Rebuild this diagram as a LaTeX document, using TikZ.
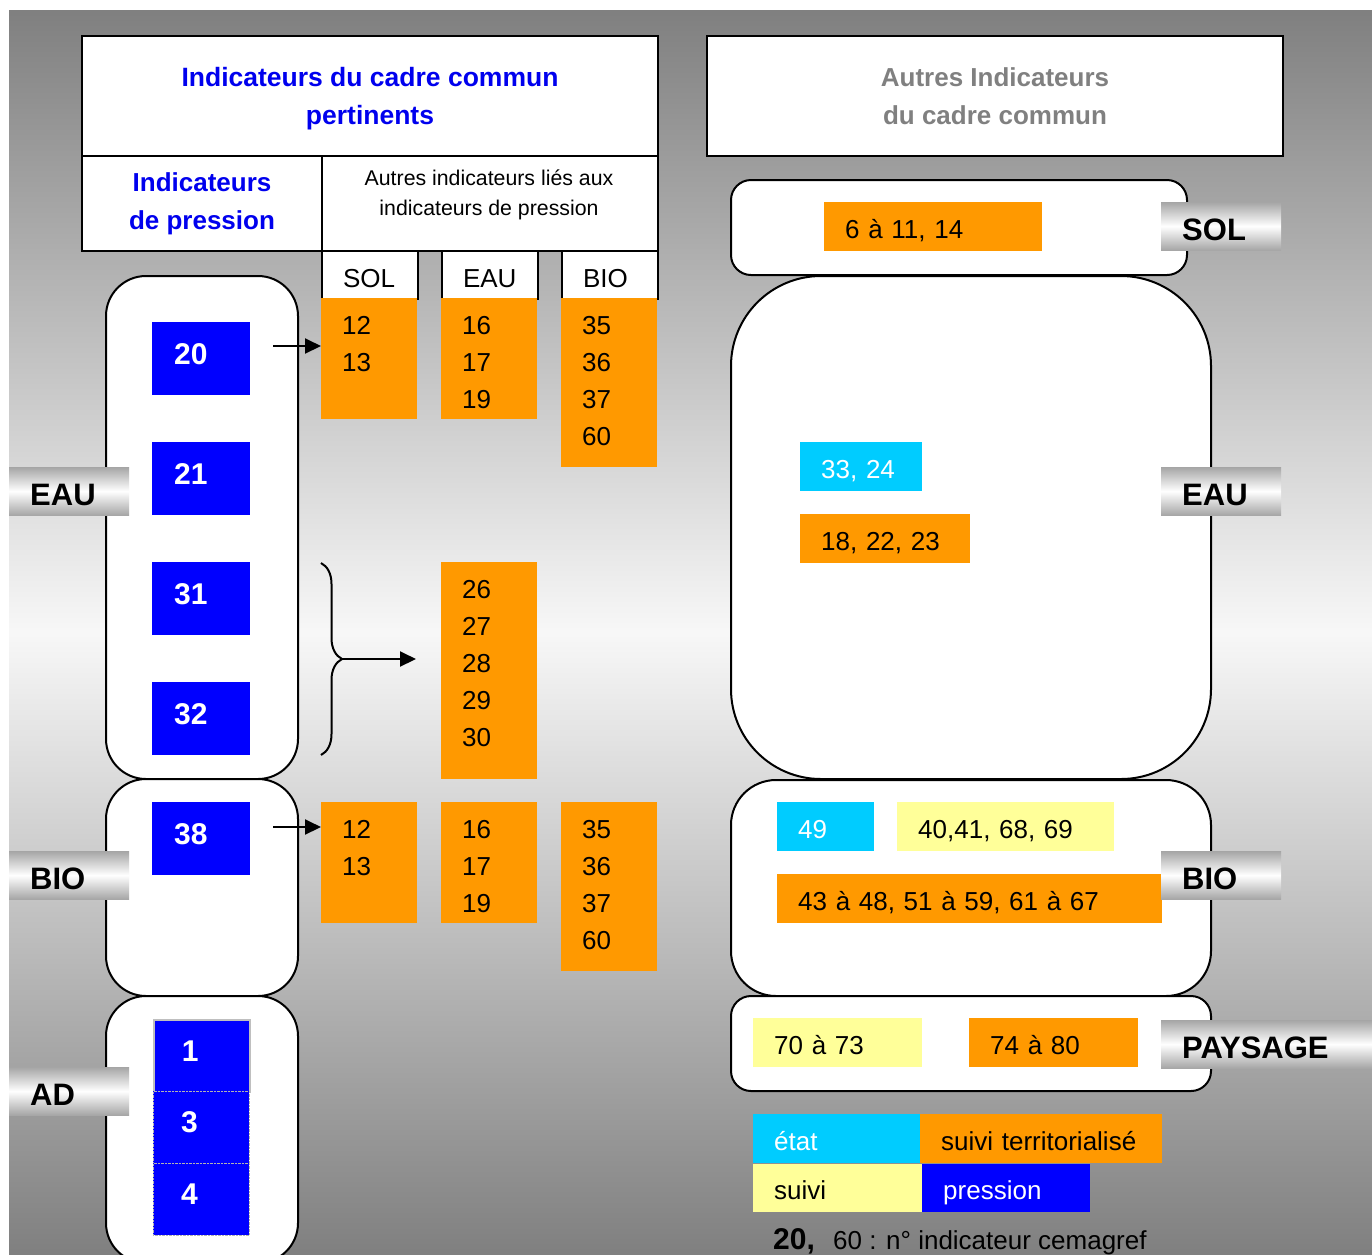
\documentclass[tikz,border=0pt]{standalone}
\usepackage{fontspec}
\setmainfont{Liberation Sans}
\usepackage{tikz}
\usepackage{xcolor}
\usetikzlibrary{arrows.meta, decorations.pathreplacing}

\definecolor{ora}{HTML}{FF9900}
\definecolor{cya}{HTML}{00CCFF}
\definecolor{yel}{HTML}{FFFF99}
\definecolor{blu}{HTML}{0000FF}
\definecolor{txtblue}{HTML}{0000EE}

\begin{document}
\begin{tikzpicture}[x=1pt, y=-1pt,
	every node/.style	= {inner sep=0pt, font=\fontsize{26}{31}\selectfont},
	cell/.style			= {draw, line width=2pt, fill=white, anchor=north west},
	grp/.style			= {draw, line width=2pt, fill=white, anchor=north west, rounded corners=#1},
	grp/.default		= 40pt,
	ocol/.style			= {fill=ora, anchor=north west, minimum width=96pt},
	num/.style			= {anchor=base west},
	cbox/.style			= {anchor=north west, minimum height=49pt, inner xsep=21pt, align=left, text height=23pt, text depth=0pt},
	head/.style			= {cbox, draw, line width=2pt, fill=white, minimum height=48pt, text width=54pt, text height=24pt},
	pbox/.style			= {fill=blu, text=white, anchor=north west, minimum height=73pt, inner xsep=22pt, text width=54pt, align=left, text height=11pt, text depth=0pt, font=\bfseries\fontsize{30}{36}\selectfont},
	tag/.style			= {anchor=north west, top color=black!35, bottom color=black!35, middle color=white, minimum height=48pt, inner xsep=21pt, align=left, text height=28pt, text depth=0pt, font=\bfseries\fontsize{31}{36}\selectfont},
	title/.style		= {cell, minimum width=576pt, minimum height=120pt, align=center, text depth=0pt, font=\bfseries\fontsize{26.5}{38}\selectfont},
	arr/.style			= {-{Triangle[length=16pt, width=15pt]}, line width=2pt}]

\useasboundingbox (0,0) rectangle (1372,1254);
\fill[white] (0,0) rectangle (1372,1254);
\shade[top color=black!50, bottom color=black!50, middle color=white!97!black] (9,10) rectangle (1372,1254);

% gauche
\node[title, text=txtblue]					(ttl)	at (81,35)		{Indicateurs du cadre commun\\pertinents};
\node[cell, minimum width=240pt, minimum height=95pt, align=center, text=txtblue, font=\bfseries\fontsize{26}{38}\selectfont]
											(prs)	at (81,155)		{Indicateurs\\de pression};
\node[cell, minimum width=336pt, minimum height=95pt]	(aut)	at (321,155)	{};
\node[align=center, font=\fontsize{21.3}{30}\selectfont]	(autt)	at (489,195)	{Autres indicateurs liés aux\\indicateurs de pression};

\node[head]									(hsol)	at (321,250)	{SOL};
\node[head]									(heau)	at (441,250)	{EAU};
\node[head]									(hbio)	at (561,250)	{BIO};

\node[ocol, minimum height=121pt]			(sol20)	at (321,298)	{};
\node[ocol, minimum height=121pt]			(eau20)	at (441,298)	{};
\node[ocol, minimum height=169pt]			(bio20)	at (561,298)	{};
\node[ocol, minimum height=217pt]			(eau31)	at (441,562)	{};
\node[ocol, minimum height=121pt]			(sol38)	at (321,802)	{};
\node[ocol, minimum height=121pt]			(eau38)	at (441,802)	{};
\node[ocol, minimum height=169pt]			(bio38)	at (561,802)	{};

\foreach \n [count=\i] in {12,13}			\node[num] (sol20-\i) at (342,297+37*\i) {\n};
\foreach \n [count=\i] in {16,17,19}		\node[num] (eau20-\i) at (462,297+37*\i) {\n};
\foreach \n [count=\i] in {35,36,37,60}		\node[num] (bio20-\i) at (582,297+37*\i) {\n};
\foreach \n [count=\i] in {26,27,28,29,30}	\node[num] (eau31-\i) at (462,561+37*\i) {\n};
\foreach \n [count=\i] in {12,13}			\node[num] (sol38-\i) at (342,801+37*\i) {\n};
\foreach \n [count=\i] in {16,17,19}		\node[num] (eau38-\i) at (462,801+37*\i) {\n};
\foreach \n [count=\i] in {35,36,37,60}		\node[num] (bio38-\i) at (582,801+37*\i) {\n};

\node[grp, minimum width=192pt, minimum height=503pt]	(geau)	at (105,275)	{};
\node[grp, minimum width=192pt, minimum height=217pt]	(gbio)	at (105,778)	{};
\node[grp, minimum width=192pt, minimum height=267pt]	(gad)	at (105,995)	{};

\node[pbox]									(p20)	at (152,322)	{20};
\node[pbox]									(p21)	at (152,442)	{21};
\node[pbox]									(p31)	at (152,562)	{31};
\node[pbox]									(p32)	at (152,682)	{32};
\node[pbox]									(p38)	at (152,802)	{38};
\node[pbox, minimum height=72pt, inner xsep=28pt, text width=40pt, draw=black!25, line width=1.5pt]
											(p1)	at (153,1019)	{1};
\node[pbox, minimum height=72pt, inner xsep=28pt, text width=40pt, draw=black!30, densely dotted]
											(p3)	at (153,1091)	{3};
\node[pbox, minimum height=72pt, inner xsep=28pt, text width=40pt, draw=black!30, densely dotted]
											(p4)	at (153,1163)	{4};

\node[tag, text width=78pt]					(teau)	at (9,467)		{EAU};
\node[tag, text width=78pt]					(tbio)	at (9,851)		{BIO};
\node[tag, text width=78pt]					(tad)	at (9,1067)		{AD};

\coordinate (a20) at (273,346);
\coordinate (a38) at (273,827);
\coordinate (brtop) at (321,563);
\coordinate (brbot) at (321,755);
\coordinate (brtip) at (342,659);
\draw[arr]	(a20) -- (a20 -| sol20.west);
\draw[arr]	(a38) -- (a38 -| sol38.west);
\draw[line width=2pt, decorate, decoration={brace, amplitude=21pt}]	(brtop) -- (brbot);
\draw[arr, shorten >=25pt]	(brtip) -- (brtip -| eau31.west);

% droite
\node[title, text=gray, font=\bfseries\fontsize{26}{38}\selectfont]	(ttr)	at (706,35)	{Autres Indicateurs\\du cadre commun};

\node[grp=20pt, minimum width=456pt, minimum height=95pt]	(rsol)	at (730,179)	{};
\node[grp=90pt, minimum width=480pt, minimum height=503pt]	(reau)	at (730,275)	{};
\node[grp=45pt, minimum width=480pt, minimum height=216pt]	(rbio)	at (730,779)	{};
\node[grp=20pt, minimum width=480pt, minimum height=95pt]	(rpay)	at (730,995)	{};

\node[cbox, fill=ora, text width=176pt]				(c6)	at (824,202)	{6 à 11, 14};
\node[cbox, fill=cya, text=white, text width=80pt]	(c33)	at (800,442)	{33, 24};
\node[cbox, fill=ora, text width=128pt]				(c18)	at (800,514)	{18, 22, 23};
\node[cbox, fill=cya, text=white, text width=55pt]	(c49)	at (777,802)	{49};
\node[cbox, fill=yel, text width=175pt]				(c40)	at (897,802)	{40,41, 68, 69};
\node[cbox, fill=ora, text width=343pt]				(c43)	at (777,874)	{43 à 48, 51 à 59, 61 à 67};
\node[cbox, fill=yel, text width=127pt]				(c70)	at (753,1018)	{70 à 73};
\node[cbox, fill=ora, text width=127pt]				(c74)	at (969,1018)	{74 à 80};

\node[tag, text width=78pt]					(tsol)	at (1161,202)	{SOL};
\node[tag, text width=78pt]					(teau2)	at (1161,467)	{EAU};
\node[tag, text width=78pt]					(tbio2)	at (1161,851)	{BIO};
\node[tag, text width=169pt]				(tpay)	at (1161,1020)	{PAYSAGE};

% legende
\node[cbox, fill=cya, text=white, text width=125pt]					(letat)	at (753,1114)	{état};
\node[cbox, fill=ora, text width=200pt]								(lterr)	at (920,1114)	{suivi territorialisé};
\node[cbox, fill=yel, text width=127pt, minimum height=48pt]		(lsuiv)	at (753,1164)	{suivi};
\node[cbox, fill=blu, text=white, text width=126pt, minimum height=48pt]	(lpres)	at (922,1164)	{pression};
\node[num, font=\bfseries\fontsize{30}{36}\selectfont]	(n20)	at (773,1249)	{20,};
\node[num]													(n60)	at (833,1249)	{60 : n° indicateur cemagref};
\end{tikzpicture}
\end{document}
